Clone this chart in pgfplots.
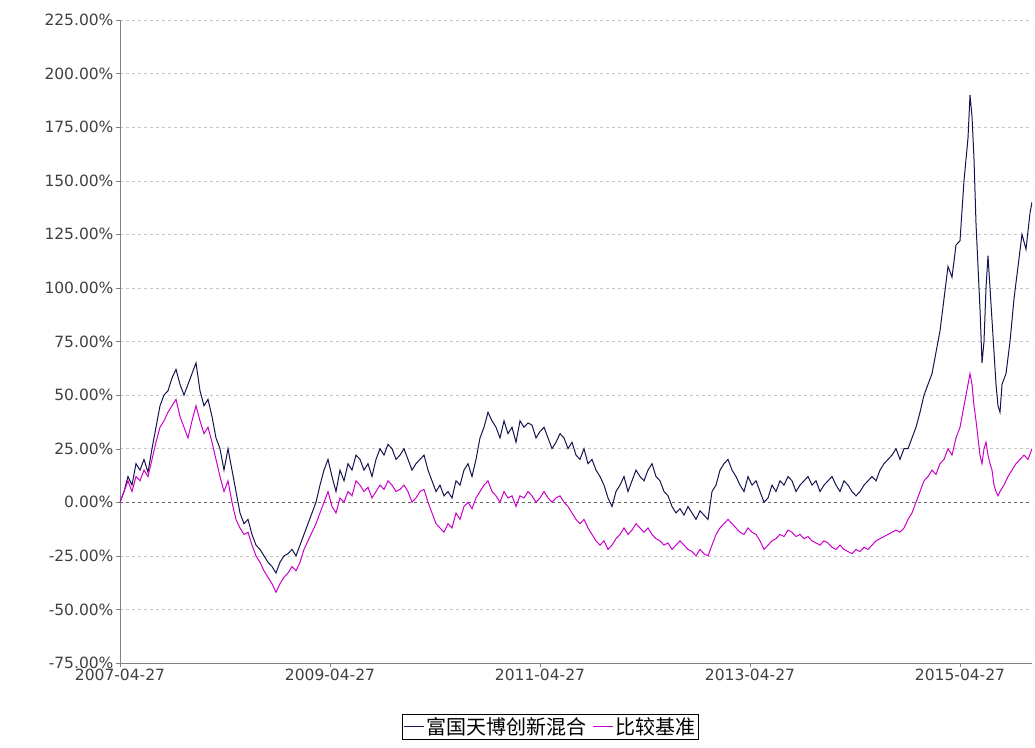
\documentclass[border=0pt]{standalone}
\usepackage{pgfplots}
\pgfplotsset{compat=1.18}
\usepackage{fontspec}
\setmainfont{DejaVu Sans}
\newfontfamily\cjk{Noto Sans CJK SC}
\definecolor{fund}{RGB}{20,20,80}
\definecolor{bench}{RGB}{204,0,204}
\begin{document}
\begin{tikzpicture}
\begin{axis}[
  scale only axis, width=912pt, height=643pt,
  xmin=120, xmax=1032, ymin=-75, ymax=225,
  axis x line*=bottom, axis y line*=left,
  axis line style={gray,-},
  xtick={120,330,540,750,960},
  xticklabels={2007-04-27,2009-04-27,2011-04-27,2013-04-27,2015-04-27},
  ytick={-75,-50,...,225},
  yticklabel={\pgfmathprintnumber[fixed,fixed zerofill,precision=2,assume math mode=true]{\tick}\%},
  tick label style={font=\fontsize{15.5}{18}\selectfont, color=black!75},
  yticklabel style={xshift=1pt},
  xticklabel style={yshift=2pt},
  tick style={gray}, tick align=outside, major tick length=4pt,
  ymajorgrids, grid style={dashed, gray!45},
  extra y ticks={0}, extra y tick labels={}, extra y tick style={grid style={dashed,gray!80!black}},
  legend style={at={(0.472,-0.08)}, anchor=north, legend columns=2, draw=black, font=\cjk\fontsize{20}{22}\selectfont, inner sep=1pt, /tikz/every even column/.append style={column sep=4pt}},
  legend image code/.code={\draw[#1] (0pt,0pt) -- (20pt,0pt);},
]
\addplot[fund, line width=1pt] coordinates {(120,0)(124,5)(128,12)(132,8)(136,18)(140,15)(144,20)(148,14)(152,25)(156,35)(160,45)(164,50)(168,52)(172,58)(176,62)(180,55)(184,50)(188,55)(192,60)(196,65)(200,52)(204,45)(208,48)(212,40)(216,30)(220,25)(224,15)(228,25)(232,15)(236,5)(240,-5)(244,-10)(248,-8)(252,-15)(256,-20)(260,-22)(264,-25)(268,-28)(272,-30)(276,-33)(280,-28)(284,-25)(288,-24)(292,-22)(296,-25)(300,-20)(304,-15)(308,-10)(312,-5)(316,0)(320,8)(324,15)(328,20)(332,12)(336,5)(340,15)(344,10)(348,18)(352,15)(356,22)(360,20)(364,15)(368,18)(372,12)(376,20)(380,25)(384,22)(388,27)(392,25)(396,20)(400,22)(404,25)(408,20)(412,15)(416,18)(420,20)(424,22)(428,15)(432,10)(436,5)(440,8)(444,3)(448,5)(452,2)(456,10)(460,8)(464,15)(468,18)(472,12)(476,20)(480,30)(484,35)(488,42)(492,38)(496,35)(500,30)(504,38)(508,32)(512,35)(516,28)(520,38)(524,35)(528,37)(532,36)(536,30)(540,33)(544,35)(548,30)(552,25)(556,28)(560,32)(564,30)(568,25)(572,28)(576,22)(580,20)(584,25)(588,18)(592,20)(596,15)(600,12)(604,8)(608,2)(612,-2)(616,5)(620,8)(624,12)(628,5)(632,10)(636,15)(640,12)(644,10)(648,15)(652,18)(656,12)(660,10)(664,5)(668,3)(672,-2)(676,-5)(680,-3)(684,-6)(688,-2)(692,-5)(696,-8)(700,-4)(704,-6)(708,-8)(712,5)(716,8)(720,15)(724,18)(728,20)(732,15)(736,12)(740,8)(744,5)(748,12)(752,8)(756,10)(760,5)(764,0)(768,2)(772,8)(776,5)(780,10)(784,8)(788,12)(792,10)(796,5)(800,8)(804,10)(808,12)(812,8)(816,10)(820,5)(824,8)(828,10)(832,12)(836,8)(840,5)(844,10)(848,8)(852,5)(856,3)(860,5)(864,8)(868,10)(872,12)(876,10)(880,15)(884,18)(888,20)(892,22)(896,25)(900,20)(904,25)(908,25)(912,30)(916,35)(920,42)(924,50)(928,55)(932,60)(936,70)(940,80)(944,95)(948,110)(952,105)(956,120)(960,122)(964,150)(968,170)(970,190)(972,180)(974,160)(976,130)(978,110)(980,90)(982,65)(984,75)(986,100)(988,115)(990,100)(992,85)(994,70)(996,55)(998,45)(1000,42)(1002,55)(1006,60)(1010,75)(1014,95)(1018,110)(1022,125)(1026,118)(1030,135)(1032,140)};
\addlegendentry{富国天博创新混合}
\addplot[bench, line width=1pt] coordinates {(120,0)(124,5)(128,10)(132,5)(136,12)(140,10)(144,15)(148,12)(152,20)(156,28)(160,35)(164,38)(168,42)(172,45)(176,48)(180,40)(184,35)(188,30)(192,38)(196,45)(200,38)(204,32)(208,35)(212,28)(216,20)(220,12)(224,5)(228,10)(232,0)(236,-8)(240,-12)(244,-15)(248,-14)(252,-20)(256,-25)(260,-28)(264,-32)(268,-35)(272,-38)(276,-42)(280,-38)(284,-35)(288,-33)(292,-30)(296,-32)(300,-28)(304,-22)(308,-18)(312,-14)(316,-10)(320,-5)(324,0)(328,5)(332,-2)(336,-5)(340,2)(344,0)(348,5)(352,3)(356,10)(360,8)(364,5)(368,7)(372,2)(376,5)(380,8)(384,6)(388,10)(392,8)(396,5)(400,6)(404,8)(408,5)(412,0)(416,2)(420,5)(424,6)(428,0)(432,-5)(436,-10)(440,-12)(444,-14)(448,-10)(452,-12)(456,-5)(460,-8)(464,-2)(468,0)(472,-3)(476,2)(480,5)(484,8)(488,10)(492,5)(496,3)(500,0)(504,5)(508,2)(512,3)(516,-2)(520,3)(524,2)(528,5)(532,3)(536,0)(540,2)(544,5)(548,2)(552,0)(556,2)(560,3)(564,0)(568,-2)(572,-5)(576,-8)(580,-10)(584,-8)(588,-12)(592,-15)(596,-18)(600,-20)(604,-18)(608,-22)(612,-20)(616,-17)(620,-15)(624,-12)(628,-15)(632,-13)(636,-10)(640,-12)(644,-14)(648,-12)(652,-15)(656,-17)(660,-18)(664,-20)(668,-19)(672,-22)(676,-20)(680,-18)(684,-20)(688,-22)(692,-23)(696,-25)(700,-22)(704,-24)(708,-25)(712,-20)(716,-15)(720,-12)(724,-10)(728,-8)(732,-10)(736,-12)(740,-14)(744,-15)(748,-12)(752,-14)(756,-15)(760,-18)(764,-22)(768,-20)(772,-18)(776,-17)(780,-15)(784,-16)(788,-13)(792,-14)(796,-16)(800,-15)(804,-17)(808,-16)(812,-18)(816,-19)(820,-20)(824,-18)(828,-19)(832,-21)(836,-22)(840,-20)(844,-22)(848,-23)(852,-24)(856,-22)(860,-23)(864,-21)(868,-22)(872,-20)(876,-18)(880,-17)(884,-16)(888,-15)(892,-14)(896,-13)(900,-14)(904,-12)(908,-8)(912,-5)(916,0)(920,5)(924,10)(928,12)(932,15)(936,13)(940,18)(944,20)(948,25)(952,22)(956,30)(960,35)(964,45)(968,55)(970,60)(972,55)(974,45)(976,38)(978,30)(980,22)(982,18)(984,25)(986,28)(988,22)(990,18)(992,15)(994,8)(996,5)(998,3)(1000,5)(1004,8)(1008,12)(1012,15)(1016,18)(1020,20)(1024,22)(1028,20)(1032,25)};
\addlegendentry{比较基准}
\end{axis}
\pgfresetboundingbox
\path (-120pt,-84pt) rectangle (915pt,663pt);
\end{tikzpicture}
\end{document}
